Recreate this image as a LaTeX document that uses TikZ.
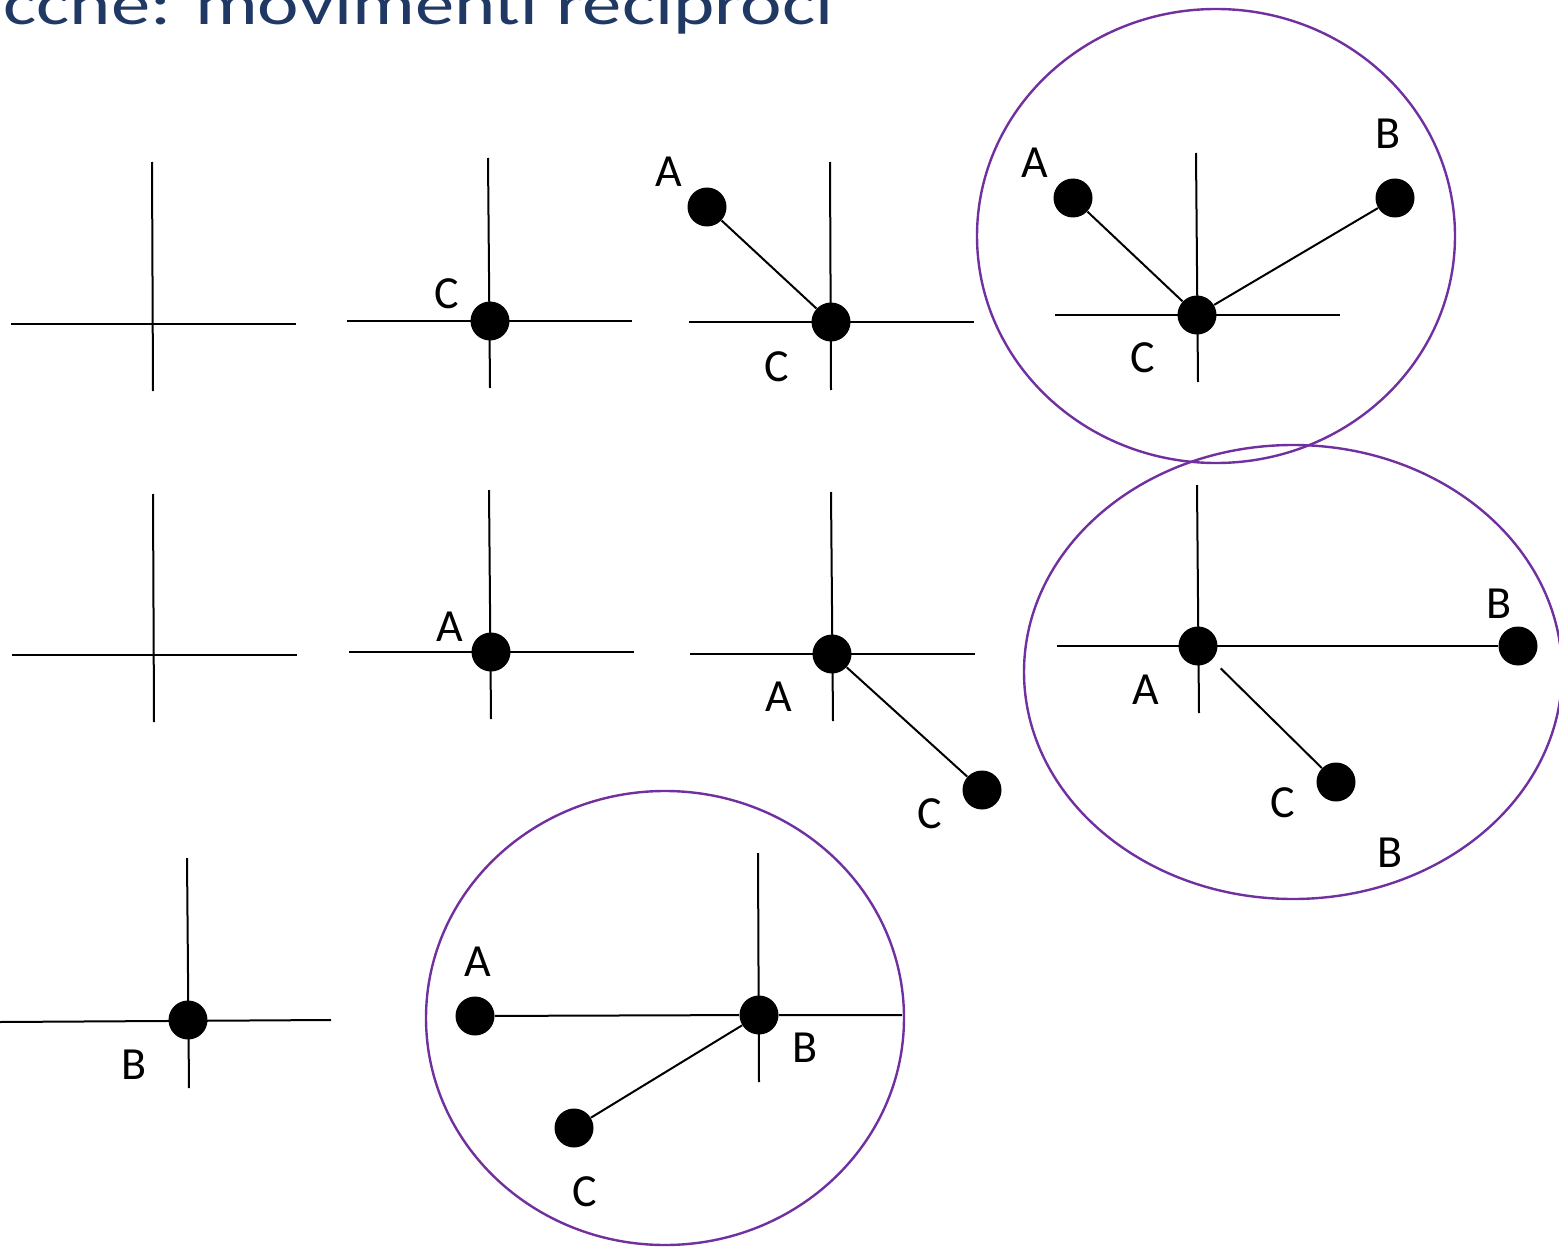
\documentclass[tikz,border=0pt]{standalone}
\usepackage{fontspec}
\setmainfont{Carlito}
\definecolor{titleblue}{RGB}{31,56,100}
\definecolor{ringpurple}{RGB}{112,48,160}
\begin{document}
\begin{tikzpicture}[x=0.5pt,y=-0.5pt,
  ax/.style={line width=1pt,black},
  dotn/.style={circle,fill=black,inner sep=0pt,minimum size=19.5pt},
  lbl/.style={inner sep=0pt,font=\fontsize{23}{23}\selectfont},
  ring/.style={line width=1.2pt,draw=ringpurple}]
\useasboundingbox (0,0) rectangle (1559,1247);
\node[anchor=base west,inner sep=0pt,text=titleblue,font=\fontsize{30}{30}\selectfont] (title) at (3,25) {\scalebox{1.31}[1]{cche: movimenti reciproci}};
% 1
\draw[ax] (152,162) -- (153,391);
\draw[ax] (11,324) -- (296,324);
% 2
\draw[ax] (488,158) -- (490,388);
\draw[ax] (347,321) -- (632,321);
\node[dotn] (c2) at (490,321) {};
\node[lbl] (lc2) at (447,294) {C};
% 3
\draw[ax] (830,162) -- (831,390);
\draw[ax] (689,322) -- (974,322);
\node[dotn] (c3) at (831,322) {};
\node[dotn] (a3) at (707,207) {};
\node[lbl] (la3) at (669,172) {A};
\node[lbl] (lc3) at (777,367) {C};
\draw[ax] (a3) -- (c3);
% 4
\draw[ring] (1216,236) ellipse [x radius=239, y radius=227];
\draw[ax] (1196,153) -- (1198,382);
\draw[ax] (1055,315) -- (1340,315);
\node[dotn] (c4) at (1197,315) {};
\node[dotn] (a4) at (1073,198) {};
\node[dotn] (b4) at (1395,198) {};
\node[lbl] (la4) at (1035,163) {A};
\node[lbl] (lb4) at (1388,134) {B};
\node[lbl] (lc4) at (1143,358) {C};
\draw[ax] (a4) -- (c4);
\draw[ax] (b4) -- (c4);
% 5
\draw[ax] (153,494) -- (154,722);
\draw[ax] (12,655) -- (297,655);
% 6
\draw[ax] (489,490) -- (491,719);
\draw[ax] (349,652) -- (634,652);
\node[dotn] (a6) at (491,652) {};
\node[lbl] (la6) at (450,627) {A};
% 7
\draw[ax] (831,492) -- (833,721);
\draw[ax] (690,654) -- (975,654);
\node[dotn] (a7) at (832,654) {};
\node[dotn] (c7) at (982,790) {};
\node[lbl] (la7) at (779,697) {A};
\node[lbl] (lc7) at (930,814) {C};
\draw[ax] (a7) -- (c7);
% 8
\draw[ring] (1293,672) ellipse [x radius=269, y radius=227];
\draw[ax] (1197,485) -- (1199,713);
\node[dotn] (a8) at (1198,646) {};
\node[dotn] (b8) at (1518,646) {};
\node[dotn] (c8) at (1336,782) {};
\coordinate (l8) at (1057,646);
\draw[ax] (l8) -- (b8);
\draw[ax, shorten <=6pt] (a8) -- (c8);
\node[lbl] (lb8) at (1499,604) {B};
\node[lbl] (la8) at (1146,690) {A};
\node[lbl] (lc8) at (1283,803) {C};
\node[lbl] (lb8b) at (1390,853) {B};
% 9
\draw[ax] (187,858) -- (189,1088);
\draw[ax] (0,1022) -- (331,1020);
\node[dotn] (b9) at (188,1020) {};
\node[lbl] (lb9) at (134,1065) {B};
% 10
\draw[ring] (665,1018) ellipse [x radius=239, y radius=227];
\draw[ax] (758,853) -- (759,1082);
\node[dotn] (b10) at (759,1015) {};
\node[dotn] (a10) at (475,1016) {};
\node[dotn] (c10) at (574,1128) {};
\coordinate (r10) at (902,1015);
\draw[ax] (a10) -- (b10) -- (r10);
\draw[ax] (b10) -- (c10);
\node[lbl] (la10) at (478,962) {A};
\node[lbl] (lc10) at (585,1192) {C};
\node[lbl] (lb10) at (805,1048) {B};
\end{tikzpicture}
\end{document}
